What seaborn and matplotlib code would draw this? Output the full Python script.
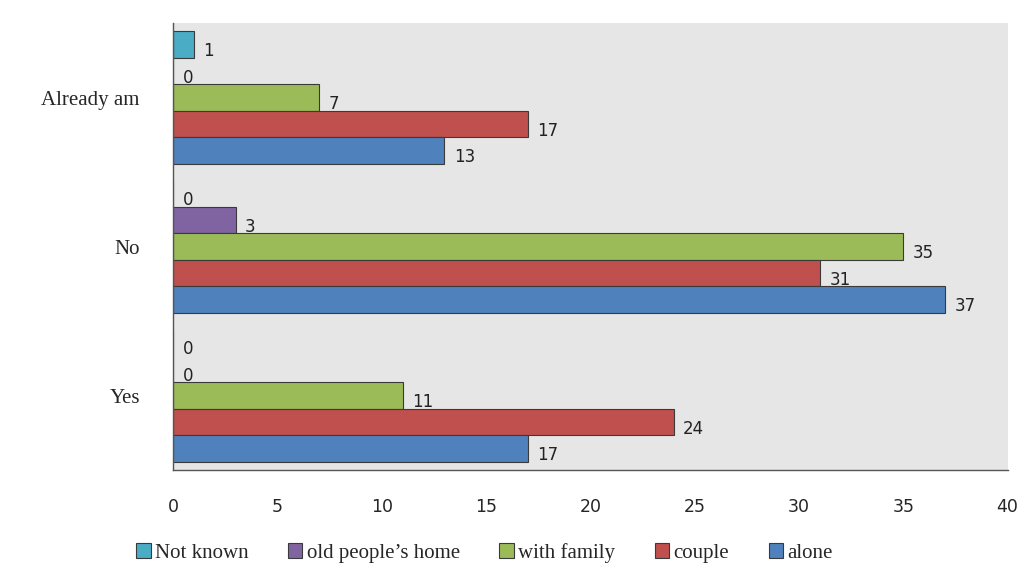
import pandas as pd
import seaborn as sns
import matplotlib.pyplot as plt

# data
answers = ["Already am", "No", "Yes"]
living = ["Not known", "old people\u2019s home", "with family", "couple", "alone"]
not_known = [1, 0, 0]
old_home = [0, 3, 0]
with_family = [7, 35, 11]
couple = [17, 31, 24]
alone = [13, 37, 17]

colors = ["#4BACC6", "#8064A2", "#9BBB59", "#C0504D", "#4F81BD"]

rows = []
for series, vals in zip(living, [not_known, old_home, with_family, couple, alone]):
    for ans, v in zip(answers, vals):
        rows.append({"answer": ans, "living": series, "count": v})
df = pd.DataFrame(rows)

sns.set_theme(style="white")
fig = plt.figure(figsize=(10.24, 5.81), dpi=100)
ax = fig.add_axes([0.169, 0.191, 0.815, 0.769])
ax.set_facecolor("#E6E6E6")

sns.barplot(data=df, y="answer", x="count", hue="living", order=answers,
            hue_order=living, palette=colors, width=0.89, orient="h",
            edgecolor="#3a3a3a", linewidth=0.8, saturation=1, ax=ax)

# value labels next to each bar
for cont in ax.containers:
    for bar in cont:
        w = bar.get_width()
        ax.text(w + 0.45, bar.get_y() + bar.get_height() / 2 + 0.045, f"{int(w)}",
                va="center", ha="left", fontsize=12, color="#222222",
                family="DejaVu Sans")

ax.set_xlim(0, 40)
ax.set_ylim(2.5, -0.5)
ax.set_xticks(range(0, 41, 5))
ax.set_xlabel("")
ax.set_ylabel("")
for lab in ax.get_xticklabels():
    lab.set_fontsize(12.5)
    lab.set_family("DejaVu Sans")
for lab in ax.get_yticklabels():
    lab.set_fontsize(15)
    lab.set_family("Liberation Serif")
ax.tick_params(axis="x", pad=20, length=0)
ax.tick_params(axis="y", pad=24, length=0)

sns.despine(ax=ax, top=True, right=True)
for side in ["left", "bottom"]:
    ax.spines[side].set_color("#555555")
    ax.spines[side].set_linewidth(1.0)

sns.move_legend(ax, "center", bbox_to_anchor=(0.473, 0.048),
                bbox_transform=fig.transFigure, ncol=5, title=None,
                frameon=False, handlelength=0.7, handleheight=0.7,
                handletextpad=0.2, columnspacing=1.9,
                prop={"family": "Liberation Serif", "size": 15})

fig.savefig("out.png", dpi=100)
